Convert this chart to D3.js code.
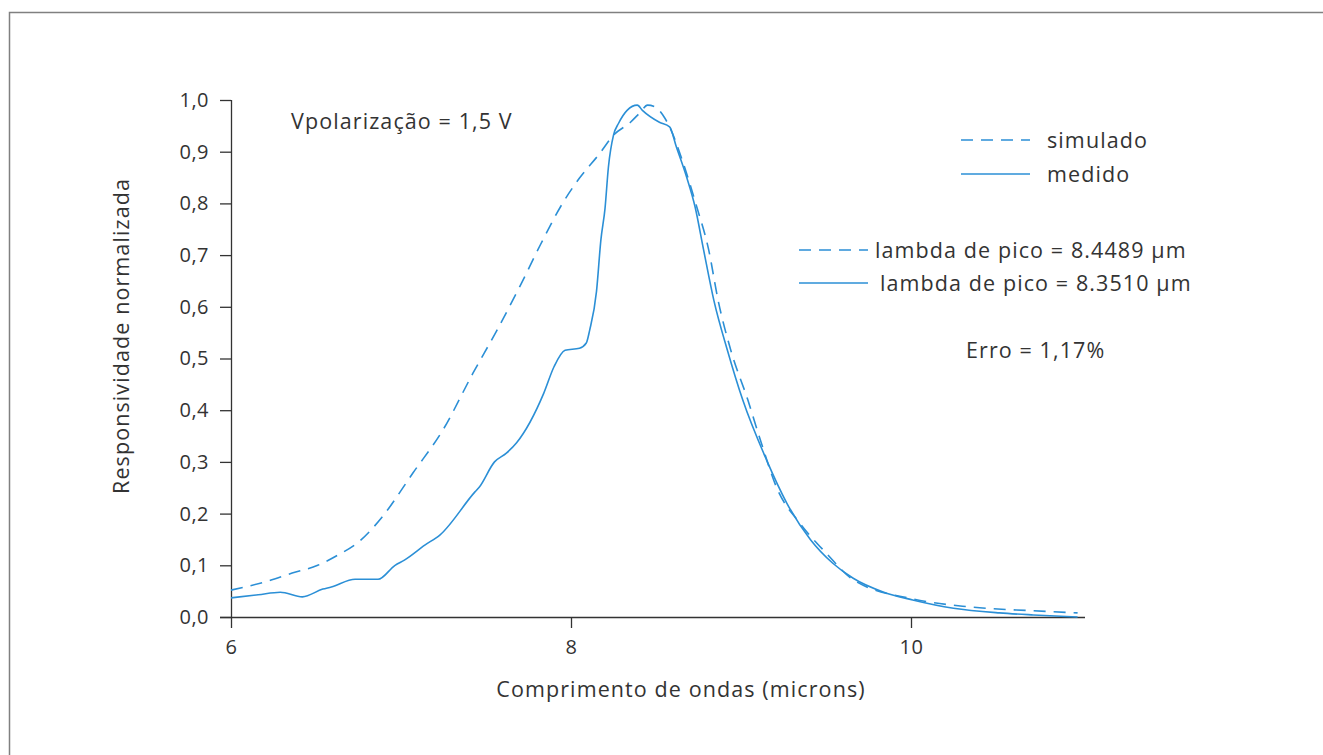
<!DOCTYPE html>
<html>
<head>
<meta charset="utf-8">
<script src="https://cdn.jsdelivr.net/npm/d3@7"></script>
<style>
  html, body { margin: 0; padding: 0; background: #fff; }
  svg { display: block; }
  text { font-family: "Open Sans", "Noto Sans", sans-serif; fill: #333; }
</style>
</head>
<body>
<svg id="chart" width="1323" height="755"></svg>
<script>
// ---- data ----
const simLambda = [6.0, 6.2, 6.36, 6.51, 6.63, 6.75, 6.888, 7.071, 7.247, 7.424, 7.565, 7.7, 7.82, 7.95, 8.05, 8.17, 8.25, 8.35, 8.41, 8.45, 8.5, 8.54, 8.58, 8.66, 8.74, 8.81, 8.865, 8.94, 9.04, 9.12, 9.21, 9.35, 9.5, 9.66, 10.01, 10.33, 10.72, 10.98];
const simValue  = [0.052, 0.068, 0.085, 0.10, 0.12, 0.145, 0.193, 0.279, 0.362, 0.472, 0.555, 0.64, 0.72, 0.80, 0.849, 0.897, 0.932, 0.957, 0.977, 0.99, 0.986, 0.971, 0.948, 0.878, 0.793, 0.71, 0.613, 0.516, 0.42, 0.336, 0.25, 0.18, 0.124, 0.072, 0.035, 0.02, 0.012, 0.008];

const medLambda = [6.0, 6.16, 6.29, 6.42, 6.54, 6.59, 6.73, 6.865, 6.965, 7.02, 7.14, 7.23, 7.435, 7.46, 7.55, 7.62, 7.68, 7.84, 7.9, 7.965, 8.05, 8.09, 8.11, 8.15, 8.176, 8.2, 8.22, 8.25, 8.28, 8.33, 8.39, 8.42, 8.52, 8.58, 8.62, 8.68, 8.73, 8.78, 8.84, 8.92, 9.01, 9.15, 9.27, 9.41, 9.54, 9.66, 9.84, 10.01, 10.25, 10.52, 10.72, 10.98];
const medValue  = [0.037, 0.043, 0.048, 0.039, 0.054, 0.058, 0.073, 0.073, 0.10, 0.11, 0.139, 0.159, 0.242, 0.251, 0.30, 0.317, 0.337, 0.433, 0.484, 0.516, 0.52, 0.53, 0.555, 0.63, 0.73, 0.79, 0.87, 0.932, 0.955, 0.98, 0.99, 0.98, 0.957, 0.948, 0.909, 0.851, 0.793, 0.71, 0.613, 0.516, 0.42, 0.304, 0.22, 0.149, 0.104, 0.075, 0.048, 0.033, 0.017, 0.008, 0.004, 0.0];

const xTicks = [6, 8, 10];
const yTicks = [0, 0.1, 0.2, 0.3, 0.4, 0.5, 0.6, 0.7, 0.8, 0.9, 1.0];

const xTitle = "Comprimento de ondas (microns)";
const yTitle = "Responsividade normalizada";
const annotation = "Vpolarização = 1,5 V";
const legendItems = [
  { label: "simulado", dashed: true },
  { label: "medido", dashed: false }
];
const peakItems = [
  { label: "lambda de pico = 8.4489 µm", dashed: true },
  { label: "lambda de pico = 8.3510 µm", dashed: false }
];
const errorText = "Erro = 1,17%";

// ---- drawing ----
const color = "#2b8fd6";
const dash = "12,8";
const FS = 21.5;
const LS = 1.1;
const svg = d3.select("#chart");

// frame
svg.append("rect")
  .attr("x", 9.5).attr("y", 12.5)
  .attr("width", 1340).attr("height", 800)
  .attr("fill", "none").attr("stroke", "#808080").attr("stroke-width", 1.5);

const x = d3.scaleLinear().domain([6, 11]).range([231, 1081]);
const y = d3.scaleLinear().domain([0, 1]).range([617, 100]);

// axes
const fmt = d => d.toFixed(1).replace(".", ",");
const yAxis = svg.append("g")
  .attr("transform", "translate(231,0)")
  .call(d3.axisLeft(y).tickValues(yTicks).tickFormat(fmt).tickSize(11).tickPadding(11).tickSizeOuter(0));
const xAxis = svg.append("g")
  .attr("transform", "translate(0,617)")
  .call(d3.axisBottom(x).tickValues(xTicks).tickFormat(d3.format("d")).tickSize(11).tickPadding(12).tickSizeOuter(0));

xAxis.select(".domain").attr("d", `M220,0.5H1085`);
yAxis.select(".domain").attr("d", `M0.5,${y(0)}V${y(1)}`);

[xAxis, yAxis].forEach(g => {
  g.selectAll(".domain, .tick line").attr("stroke", "#333").attr("stroke-width", 1.3);
  g.selectAll("text").attr("font-size", 20).attr("fill", "#333")
    .attr("letter-spacing", 0.5)
    .style("font-family", '"Open Sans", sans-serif');
});

// lines
const line = d3.line().x(d => x(d[0])).y(d => y(d[1])).curve(d3.curveMonotoneX);
const simData = simLambda.map((l, i) => [l, simValue[i]]);
const medData = medLambda.map((l, i) => [l, medValue[i]]);

svg.append("path").datum(simData)
  .attr("d", line).attr("fill", "none").attr("stroke", color)
  .attr("stroke-width", 1.6).attr("stroke-dasharray", dash);
svg.append("path").datum(medData)
  .attr("d", line).attr("fill", "none").attr("stroke", color)
  .attr("stroke-width", 1.6);

function label(xp, yp, txt, anchor) {
  return svg.append("text").attr("x", xp).attr("y", yp)
    .attr("text-anchor", anchor || "start")
    .attr("font-size", FS).attr("letter-spacing", LS).text(txt);
}

// titles
label(681, 697, xTitle, "middle");
svg.append("text")
  .attr("transform", "translate(129,336) rotate(-90)")
  .attr("text-anchor", "middle").attr("font-size", FS).attr("letter-spacing", LS).text(yTitle);

label(291, 129, annotation);

// legend
legendItems.forEach((it, i) => {
  const yy = 140 + i * 34;
  svg.append("line").attr("x1", 961).attr("x2", 1030).attr("y1", yy).attr("y2", yy)
    .attr("stroke", color).attr("stroke-width", 1.4)
    .attr("stroke-dasharray", it.dashed ? dash : null);
  label(1047, yy + 8, it.label);
});
peakItems.forEach((it, i) => {
  const yy = 250 + i * 33;
  svg.append("line").attr("x1", 799).attr("x2", 868).attr("y1", yy).attr("y2", yy)
    .attr("stroke", color).attr("stroke-width", 1.4)
    .attr("stroke-dasharray", it.dashed ? dash : null);
  label(i === 0 ? 875 : 880, yy + 8, it.label);
});
label(966, 358, errorText);
</script>
</body>
</html>
